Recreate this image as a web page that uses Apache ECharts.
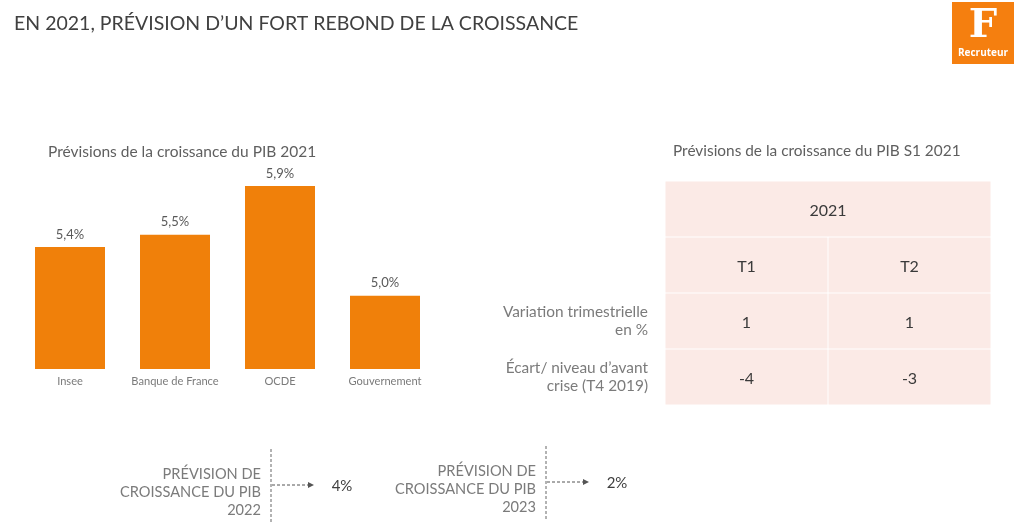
<!DOCTYPE html>
<html>
<head>
    <meta charset="utf-8">
    <title>Prévisions de croissance</title>
    <script src="https://cdn.jsdelivr.net/npm/echarts@6/dist/echarts.min.js"></script>
    <style>
        html, body { margin: 0; padding: 0; background: #fff; }
        #main { width: 1024px; height: 529px; }
    </style>
</head>
<body>
<div id="main"></div>
<script type="text/javascript">
    var barCategories = ['Insee', 'Banque de France', 'OCDE', 'Gouvernement'];
    var barValues = [5.4, 5.5, 5.9, 5.0];

    var tableColumns = ['T1', 'T2'];
    var tableRows = ['', '', 'Variation trimestrielle\nen %', 'Écart/ niveau d’avant\ncrise (T4 2019)'];
    var headerYear = '2021';
    var rowT1 = ['T1', '1', '-4'];
    var rowT2 = ['T2', '1', '-3'];

    var laterYears = ['2022', '2023'];
    var laterValues = ['4%', '2%'];

    var FONT = 'Lato';
    var ORANGE = '#f0800a';
    var GREY = '#7b7b7b';
    var DARK = '#404040';

    // cellules du tableau : [colonne, ligne, texte, nb de colonnes]
    var cells = [[0, 0, headerYear, 2]];
    rowT1.forEach(function (t, i) { cells.push([0, i + 1, t, 1]); });
    rowT2.forEach(function (t, i) { cells.push([1, i + 1, t, 1]); });

    function renderCell(params, api) {
        var cell = cells[params.dataIndex];
        var c = api.coord([cell[0], cell[1]]);
        var band = api.size([1, 1]);
        var x = c[0] - band[0] / 2;
        var y = c[1] - band[1] / 2;
        var w = band[0] * cell[3];
        return {
            type: 'rect',
            shape: { x: x + 0.5, y: y + 0.5, width: w - 1, height: band[1] - 1 },
            style: { fill: '#fbeae6' },
            textContent: {
                style: { text: cell[2], fill: '#3a3a3a', fontSize: 16, fontFamily: FONT }
            },
            textConfig: { position: 'inside', offset: [0, 2] }
        };
    }

    // bloc "prévision" en bas de page
    function forecastBlock(lineX, top, year, value) {
        var mid = top + 36;
        return [
            {
                type: 'text', x: lineX - 10, y: top + 16.5,
                style: {
                    text: 'PRÉVISION DE\nCROISSANCE DU PIB\n' + year,
                    fill: GREY, fontSize: 14.6, lineHeight: 18, align: 'right', fontFamily: FONT
                }
            },
            {
                type: 'line', shape: { x1: lineX, y1: top, x2: lineX, y2: top + 74 },
                style: { stroke: '#666', lineWidth: 1, lineDash: [3, 2] }
            },
            {
                type: 'line', shape: { x1: lineX + 1, y1: mid, x2: lineX + 38, y2: mid },
                style: { stroke: '#555', lineWidth: 1, lineDash: [3, 2] }
            },
            {
                type: 'polygon',
                shape: { points: [[lineX + 37, mid - 3], [lineX + 43, mid], [lineX + 37, mid + 3]] },
                style: { fill: '#555' }
            },
            {
                type: 'text', x: lineX + 71, y: mid + 1,
                style: {
                    text: value, fill: DARK, fontSize: 15, fontFamily: FONT,
                    align: 'center', verticalAlign: 'middle'
                }
            }
        ];
    }

    var graphics = [
        { type: 'rect', shape: { x: 952, y: 2, width: 62, height: 62 }, style: { fill: '#f57f0f' } },
        {
            type: 'text', x: 983, y: 27,
            style: {
                text: 'F', fill: '#fff', fontSize: 40, fontWeight: 'bold',
                fontFamily: 'DejaVu Serif', align: 'center', verticalAlign: 'middle'
            }
        },
        {
            type: 'text', x: 983, y: 53,
            style: {
                text: 'Recruteur', fill: '#fff', fontSize: 10, fontWeight: 'bold',
                fontFamily: 'Open Sans', align: 'center', verticalAlign: 'middle'
            }
        }
    ].concat(
        forecastBlock(271, 449, laterYears[0], laterValues[0]),
        forecastBlock(546, 446, laterYears[1], laterValues[1])
    );

    var myChart = echarts.init(document.getElementById('main'));
    myChart.setOption({
        animation: false,
        backgroundColor: '#fff',
        textStyle: { fontFamily: FONT },
        title: [
            {
                text: 'EN 2021, PRÉVISION D’UN FORT REBOND DE LA CROISSANCE',
                left: 14, top: 14, padding: 0,
                textStyle: { color: DARK, fontSize: 19.5, fontWeight: 'normal', fontFamily: FONT }
            },
            {
                text: 'Prévisions de la croissance du PIB 2021',
                left: 48, top: 144, padding: 0,
                textStyle: { color: '#5f5f5f', fontSize: 15.5, fontWeight: 'normal', fontFamily: FONT }
            },
            {
                text: 'Prévisions de la croissance du PIB S1 2021',
                left: 673, top: 144, padding: 0,
                textStyle: { color: '#5f5f5f', fontSize: 15.4, fontWeight: 'normal', fontFamily: FONT }
            }
        ],
        grid: [
            { left: 17.5, top: 186, width: 420, height: 183 },
            { left: 665, top: 181, width: 326, height: 224 }
        ],
        xAxis: [
            {
                gridIndex: 0, type: 'category', data: barCategories,
                axisLine: { show: false }, axisTick: { show: false },
                axisLabel: { color: GREY, fontSize: 11.1, margin: 7, interval: 0, fontFamily: FONT }
            },
            {
                gridIndex: 1, type: 'category', data: tableColumns, show: false
            }
        ],
        yAxis: [
            {
                gridIndex: 0, type: 'value', min: 4.4, max: 5.9, show: false, splitLine: { show: false }
            },
            {
                gridIndex: 1, type: 'category', inverse: true, data: tableRows,
                axisLine: { show: false }, axisTick: { show: false },
                axisLabel: {
                    color: GREY, fontSize: 15.4, lineHeight: 18, margin: 17,
                    padding: [3, 0, 0, 0],
                    align: 'right', interval: 0, fontFamily: FONT
                }
            }
        ],
        series: [
            {
                type: 'bar', xAxisIndex: 0, yAxisIndex: 0,
                data: barValues, barWidth: 70,
                itemStyle: { color: ORANGE },
                label: {
                    show: true, position: 'top', distance: 6, color: '#595959', fontSize: 13,
                    fontFamily: FONT,
                    formatter: function (p) { return p.value.toFixed(1).replace('.', ',') + '%'; }
                }
            },
            {
                type: 'custom', xAxisIndex: 1, yAxisIndex: 1,
                renderItem: renderCell,
                encode: { x: 0, y: 1 },
                data: cells
            }
        ],
        graphic: graphics
    });
</script>
</body>
</html>
